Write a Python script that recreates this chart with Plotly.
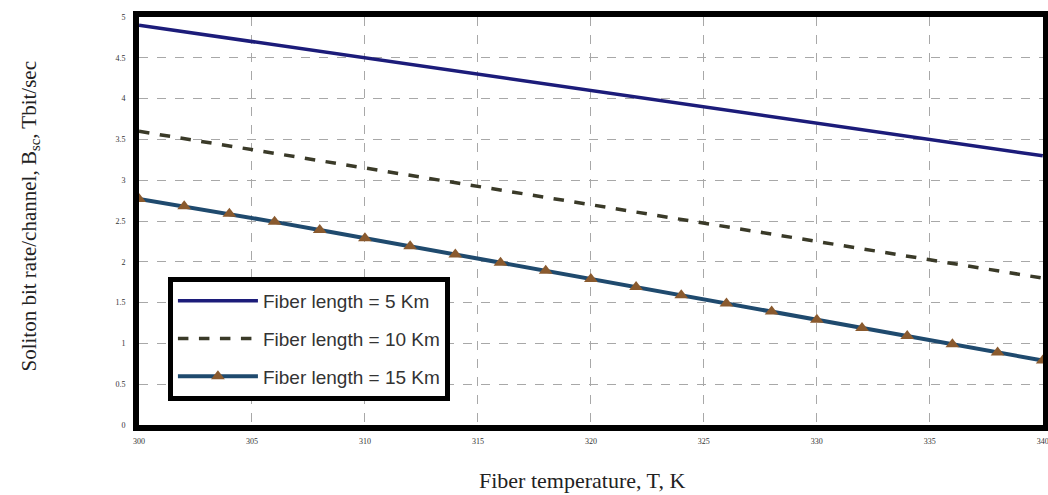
import plotly.graph_objects as go

# Data
temp_5 = [300, 340]
rate_5 = [4.90, 3.30]
temp_10 = [300, 340]
rate_10 = [3.60, 1.80]
temp_15 = [300, 302, 304, 306, 308, 310, 312, 314, 316, 318, 320,
           322, 324, 326, 328, 330, 332, 334, 336, 338, 340]
rate_15 = [2.77, 2.68, 2.59, 2.49, 2.39, 2.29, 2.19, 2.09, 1.99, 1.89, 1.79,
           1.69, 1.59, 1.49, 1.39, 1.29, 1.19, 1.09, 0.99, 0.89, 0.79]
names = ["Fiber length = 5 Km", "Fiber length = 10 Km", "Fiber length = 15 Km"]
x_ticks = [300, 305, 310, 315, 320, 325, 330, 335, 340]
y_ticks = [0, 0.5, 1, 1.5, 2, 2.5, 3, 3.5, 4, 4.5, 5]
x_title = "Fiber temperature, T, K"
y_title = "Soliton bit rate/channel, B<sub>sc</sub>, Tbit/sec"

fig = go.Figure()
fig.add_trace(go.Scatter(x=temp_5, y=rate_5, mode="lines", name=names[0], legendgroup="a",
                         line=dict(color="#1c1c7a", width=3.5)))
fig.add_trace(go.Scatter(x=temp_10, y=rate_10, mode="lines", name=names[1], legendgroup="b",
                         line=dict(color="#3a3a28", width=3.5, dash="dash")))
fig.add_trace(go.Scatter(x=temp_15, y=rate_15, mode="lines+markers", name=names[2], legendgroup="c",
                         line=dict(color="#1f4a6e", width=4),
                         marker=dict(symbol="triangle-up", size=12, color="#8a5a2e",
                                     line=dict(width=0))))

axis_common = dict(showline=True, linewidth=6, linecolor="black", mirror=True,
                   showgrid=True, gridcolor="#a8a8a8", griddash="dash", gridwidth=1,
                   zeroline=False, ticks="", automargin=False,
                   tickfont=dict(size=8, color="#333333", family="Liberation Serif"))

fig.update_xaxes(range=[300, 340.01], tickvals=x_ticks, ticktext=[str(v) for v in x_ticks],
                 ticklabelstandoff=3, ticklabeloverflow="allow", **axis_common)
fig.update_yaxes(range=[0, 5.001], tickvals=y_ticks, ticktext=[str(v) for v in y_ticks],
                 ticklabelstandoff=6, ticklabeloverflow="allow", **axis_common)

fig.add_annotation(text=x_title, xref="paper", yref="paper", x=0.49, y=-0.135,
                   xanchor="center", yanchor="middle", showarrow=False,
                   font=dict(family="Liberation Serif", size=22, color="#222222"))
fig.add_annotation(text=y_title, xref="paper", yref="paper", x=-0.121, y=0.51,
                   xanchor="center", yanchor="middle", showarrow=False, textangle=-90,
                   font=dict(family="Liberation Serif", size=21, color="#222222"))

fig.update_layout(
    width=1048, height=495,
    margin=dict(l=139, r=5, t=17, b=70),
    plot_bgcolor="white", paper_bgcolor="white",
    showlegend=True,
    legend=dict(x=0.032, y=0.363, xanchor="left", yanchor="top",
                bgcolor="white", bordercolor="black", borderwidth=5,
                font=dict(family="Liberation Sans", size=19, color="#333333"),
                itemwidth=80, tracegroupgap=10),
)

fig.write_html("out.html", config={"displayModeBar": False},
               post_script="document.body.style.margin='0';document.body.style.overflow='hidden';")
